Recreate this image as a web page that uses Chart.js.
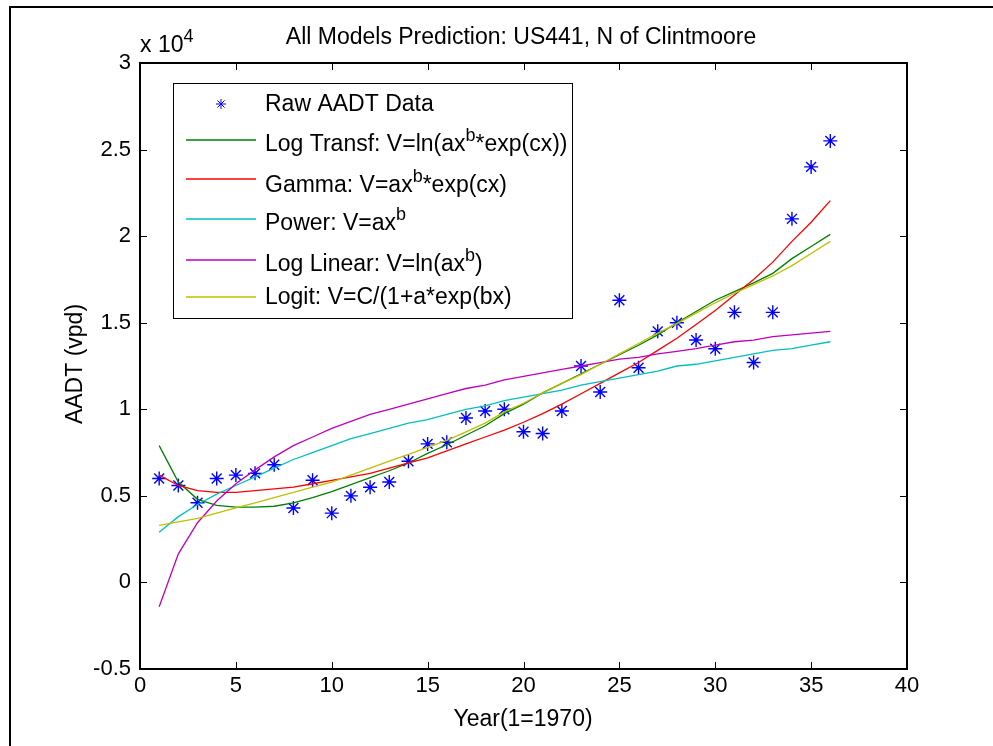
<!DOCTYPE html>
<html>
<head>
<meta charset="utf-8">
<script src="https://cdn.jsdelivr.net/npm/chart.js@4.4.1/dist/chart.umd.min.js"></script>
<style>
  html, body { margin: 0; padding: 0; background: #fff; }
</style>
</head>
<body>
<canvas id="chart" width="993" height="746"></canvas>
<script>
// year index (1 = 1970)
var years = [1, 2, 3, 4, 5, 6, 7, 8, 9, 10, 11, 12, 13, 14, 15, 16, 17, 18,
             19, 20, 21, 22, 23, 24, 25, 26, 27, 28, 29, 30, 31, 32, 33, 34, 35, 36];

// AADT, vehicles per day
var rawAADT = [6000, 5600, 4600, 6000, 6200, 6300, 6800, 4300, 5900, 4000, 5000, 5500,
               5800, 7000, 8000, 8100, 9500, 9900, 10000, 8700, 8600, 9900, 12500, 11000,
               16300, 12400, 14500, 15000, 14000, 13500, 15600, 12700, 15600, 21000, 24000, 25500];

var logTransf = [7900, 5800, 4800, 4450, 4350, 4350, 4400, 4600, 4900, 5250, 5650, 6050,
                 6450, 6900, 7450, 7950, 8500, 9050, 9750, 10300, 10950, 11500, 12050, 12600,
                 13150, 13700, 14300, 15000, 15650, 16300, 16800, 17300, 17850, 18700, 19400, 20100];

var gamma = [6200, 5600, 5300, 5200, 5200, 5300, 5400, 5500, 5700, 5900, 6100, 6300,
             6600, 6900, 7200, 7600, 8000, 8400, 8800, 9250, 9750, 10300, 10900, 11500,
             12100, 12700, 13400, 14100, 14900, 15700, 16600, 17500, 18500, 19700, 20800, 22050];

var power = [2900, 3800, 4500, 5100, 5600, 6100, 6600, 7100, 7500, 7900, 8300, 8600,
             8900, 9200, 9400, 9700, 10000, 10200, 10500, 10700, 10900, 11100, 11400, 11600,
             11800, 12000, 12200, 12500, 12600, 12800, 13000, 13200, 13400, 13500, 13700, 13900];

var logLinear = [-1400, 1650, 3450, 4700, 5700, 6500, 7250, 7900, 8400, 8900, 9300, 9700,
                 10000, 10300, 10600, 10900, 11200, 11400, 11700, 11900, 12100, 12300, 12500, 12700,
                 12900, 13000, 13200, 13350, 13500, 13700, 13900, 14000, 14200, 14300, 14400, 14500];

var logit = [3300, 3500, 3700, 4000, 4300, 4600, 4900, 5200, 5500, 5800, 6200, 6600,
             7000, 7400, 7800, 8200, 8700, 9200, 9850, 10350, 10950, 11500, 12000, 12600,
             13200, 13800, 14400, 14950, 15550, 16150, 16700, 17200, 17700, 18300, 19000, 19700];

var xTicks = { min: 0, max: 40, step: 5 };
var yTicks = { min: -5000, max: 30000, step: 5000 };

var FONT = '"Liberation Sans", Arial, Helvetica, sans-serif';
var FS = 23;

function pts(arr) {
  return years.map(function (x, i) { return { x: x, y: arr[i] }; });
}

var models = [
  { label: 'Log Transf', data: logTransf, color: '#008000',
    text: [['Log Transf: V=ln(ax', 0], ['b', 1], ['*exp(cx))', 0]] },
  { label: 'Gamma', data: gamma, color: '#ff0000',
    text: [['Gamma: V=ax', 0], ['b', 1], ['*exp(cx)', 0]] },
  { label: 'Power', data: power, color: '#00bfbf',
    text: [['Power: V=ax', 0], ['b', 1]] },
  { label: 'Log Linear', data: logLinear, color: '#bf00bf',
    text: [['Log Linear: V=ln(ax', 0], ['b', 1], [')', 0]] },
  { label: 'Logit', data: logit, color: '#bfbf00',
    text: [['Logit: V=C/(1+a*exp(bx)', 0]] }
];

var datasets = [{
  label: 'Raw AADT Data',
  data: pts(rawAADT),
  showLine: false,
  pointStyle: 'star',
  pointRadius: 7,
  pointBorderWidth: 1.4,
  pointBorderColor: '#0000ff',
  pointBackgroundColor: '#0000ff',
  borderColor: '#0000ff',
  order: 10
}];
models.forEach(function (m, i) {
  datasets.push({
    label: m.label,
    data: pts(m.data),
    showLine: true,
    borderColor: m.color,
    backgroundColor: m.color,
    borderWidth: 1.3,
    pointRadius: 0,
    tension: 0,
    fill: false,
    order: 5 - i
  });
});

function drawRich(ctx, segs, x, y) {
  segs.forEach(function (s) {
    if (s[1]) {
      ctx.font = '18px ' + FONT;
      ctx.fillText(s[0], x, y - 10);
    } else {
      ctx.font = FS + 'px ' + FONT;
      ctx.fillText(s[0], x, y);
    }
    x += ctx.measureText(s[0]).width;
  });
}

var decor = {
  id: 'decor',
  beforeDraw: function (chart) {
    var ctx = chart.ctx;
    ctx.save();
    ctx.fillStyle = '#fff';
    ctx.fillRect(0, 0, chart.width, chart.height);
    ctx.restore();
  },
  afterDraw: function (chart) {
    var ctx = chart.ctx, a = chart.chartArea;
    var xs = chart.scales.x, ys = chart.scales.y;
    ctx.save();

    // axes box + inward ticks
    ctx.strokeStyle = '#000';
    ctx.lineWidth = 2;
    ctx.strokeRect(a.left, a.top, a.right - a.left, a.bottom - a.top);
    ctx.lineWidth = 1;
    ctx.beginPath();
    xs.ticks.forEach(function (t) {
      var px = Math.round(xs.getPixelForValue(t.value)) + 0.5;
      ctx.moveTo(px, a.bottom); ctx.lineTo(px, a.bottom - 7);
      ctx.moveTo(px, a.top); ctx.lineTo(px, a.top + 7);
    });
    ys.ticks.forEach(function (t) {
      var py = Math.round(ys.getPixelForValue(t.value)) + 0.5;
      ctx.moveTo(a.left, py); ctx.lineTo(a.left + 7, py);
      ctx.moveTo(a.right, py); ctx.lineTo(a.right - 7, py);
    });
    ctx.stroke();

    // outer frame (left + top)
    ctx.lineWidth = 2;
    ctx.beginPath();
    ctx.moveTo(10, 746); ctx.lineTo(10, 7); ctx.lineTo(993, 7);
    ctx.stroke();

    // titles
    ctx.fillStyle = '#000';
    ctx.font = FS + 'px ' + FONT;
    ctx.textAlign = 'center';
    ctx.textBaseline = 'alphabetic';
    ctx.fillText('All Models Prediction: US441, N of Clintmoore', 521, 44);
    ctx.fillText('Year(1=1970)', 523, 726);

    ctx.save();
    ctx.translate(82, 364);
    ctx.rotate(-Math.PI / 2);
    ctx.fillText('AADT (vpd)', 0, 0);
    ctx.restore();

    ctx.textAlign = 'left';
    drawRich(ctx, [['x 10', 0], ['4', 1]], 140, 52);

    // legend
    ctx.fillStyle = '#fff';
    ctx.fillRect(173, 83, 399, 235);
    ctx.strokeStyle = '#000';
    ctx.lineWidth = 1;
    ctx.strokeRect(173.5, 83.5, 399, 235);

    // star marker sample
    ctx.strokeStyle = '#0000ff';
    ctx.beginPath();
    var sx = 221, sy = 104, r = 5;
    ctx.moveTo(sx - r, sy); ctx.lineTo(sx + r, sy);
    ctx.moveTo(sx, sy - r); ctx.lineTo(sx, sy + r);
    var d = r * 0.7071;
    ctx.moveTo(sx - d, sy - d); ctx.lineTo(sx + d, sy + d);
    ctx.moveTo(sx - d, sy + d); ctx.lineTo(sx + d, sy - d);
    ctx.stroke();

    ctx.fillStyle = '#000';
    drawRich(ctx, [['Raw AADT Data', 0]], 265, 111);

    var lineY = [140, 179, 219, 260, 297];
    var textY = [151, 192, 230, 271, 304];
    models.forEach(function (m, i) {
      ctx.strokeStyle = m.color;
      ctx.lineWidth = 1.5;
      ctx.beginPath();
      ctx.moveTo(186, lineY[i]);
      ctx.lineTo(256, lineY[i]);
      ctx.stroke();
      ctx.fillStyle = '#000';
      drawRich(ctx, m.text, 265, textY[i]);
    });

    ctx.restore();
  }
};

new Chart(document.getElementById('chart'), {
  type: 'scatter',
  data: { datasets: datasets },
  options: {
    responsive: false,
    devicePixelRatio: 1,
    animation: false,
    layout: { padding: { left: 0, top: 63, right: 86, bottom: 0 } },
    plugins: { legend: { display: false }, tooltip: { enabled: false } },
    scales: {
      x: {
        type: 'linear',
        min: xTicks.min, max: xTicks.max,
        grid: { display: false, drawTicks: false },
        border: { display: false },
        ticks: { stepSize: xTicks.step, color: '#000', padding: 4,
                 font: { family: FONT, size: 22 }, maxRotation: 0 },
        afterFit: function (s) { s.height = 77; }
      },
      y: {
        type: 'linear',
        min: yTicks.min, max: yTicks.max,
        grid: { display: false, drawTicks: false },
        border: { display: false },
        ticks: { stepSize: yTicks.step, color: '#000', padding: 9,
                 font: { family: FONT, size: 22 },
                 callback: function (v) { return String(v / 10000); } },
        afterFit: function (s) { s.width = 140; }
      }
    }
  },
  plugins: [decor]
});
</script>
</body>
</html>
